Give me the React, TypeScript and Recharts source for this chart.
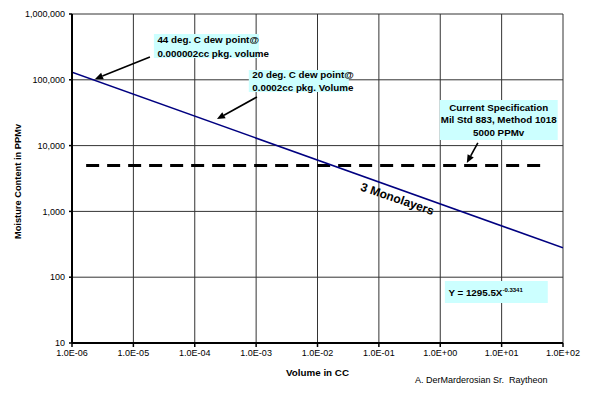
import React from 'react';
import { LineChart, Line, XAxis, YAxis, CartesianGrid, ReferenceArea, ReferenceLine, ReferenceDot } from 'recharts';

// power-law fit, read at the two ends of the x axis
const volumeCC = [1e-6, 1e2];
const moisturePPMv = [130000, 280];

// current spec line (5000 PPMv)
const specVolumeCC = [1.7e-6, 45];
const specPPMv = [5000, 5000];

const xTicks = [1e-6, 1e-5, 1e-4, 1e-3, 1e-2, 1e-1, 1, 10, 100];
const yTicks = [10, 100, 1000, 10000, 100000, 1000000];

const fitData = volumeCC.map((x, i) => ({ x, y: moisturePPMv[i] }));
const specData = specVolumeCC.map((x, i) => ({ x, y: specPPMv[i] }));

const FONT = '"Liberation Sans", Arial, sans-serif';
const BOX = '#ccffff';

// callouts, placed in data units
const notes = [
  {
    lines: ['44 deg. C dew point@', '0.000002cc pkg. volume'],
    box: { x1: 2.16e-5, x2: 1.11e-3, y1: 2.14e5, y2: 4.97e5 },
    align: 'start',
    lh: 14,
    arrow: [{ x: 1.86e-5, y: 2.22e5 }, { x: 2.37e-6, y: 1.03e5 }],
  },
  {
    lines: ['20 deg. C dew point@', '0.0002cc pkg. Volume'],
    box: { x1: 7.6e-4, x2: 0.0324, y1: 6.53e4, y2: 1.41e5 },
    align: 'start',
    lh: 12.5,
    arrow: [{ x: 1.03e-3, y: 5.48e4 }, { x: 2.3e-4, y: 2.53e4 }],
  },
  {
    lines: ['Current Specification', 'Mil Std 883, Method 1018', '5000 PPMv'],
    box: { x1: 0.98, x2: 82, y1: 1.22e4, y2: 4.93e4 },
    align: 'middle',
    lh: 12.2,
    arrow: [{ x: 4.1, y: 1.1e4 }, { x: 2.71, y: 5450 }],
  },
];

const fmtX = (v: number) => {
  const exp = Math.round(Math.log10(v));
  const sign = exp < 0 ? '-' : '+';
  return `1.0E${sign}${String(Math.abs(exp)).padStart(2, '0')}`;
};
const fmtY = (v: number) => v.toLocaleString('en-US');

const boxText = (lines: string[], align: string, lh: number) => (props: any) => {
  const { x, y, width, height } = props.viewBox;
  const tx = align === 'middle' ? x + width / 2 : x + 3.5;
  const top = y + height / 2 - ((lines.length - 1) * lh) / 2 + 3.5;
  return (
    <text fontFamily={FONT} fontSize={9.8} fontWeight="bold" fill="#000" textAnchor={align}>
      {lines.map((l, i) => (
        <tspan key={i} x={tx} y={top + i * lh}>{l}</tspan>
      ))}
    </text>
  );
};

const formulaText = (props: any) => {
  const { x, y, height } = props.viewBox;
  return (
    <text x={x + 3.5} y={y + height / 2 + 4} fontFamily={FONT} fontSize={9.8} fontWeight="bold" fill="#000">
      Y = 1295.5X
      <tspan dy={-4} fontSize={6}>-0.3341</tspan>
    </text>
  );
};

const Arrow = (props: any) => {
  const { x1, y1, x2, y2 } = props;
  const a = Math.atan2(y2 - y1, x2 - x1);
  const L = 8;
  const W = 3.5;
  const bx = x2 - L * Math.cos(a);
  const by = y2 - L * Math.sin(a);
  const pts = `${x2},${y2} ${bx + W * Math.sin(a)},${by - W * Math.cos(a)} ${bx - W * Math.sin(a)},${by + W * Math.cos(a)}`;
  return (
    <g>
      <line x1={x1} y1={y1} x2={bx} y2={by} stroke="#000" strokeWidth={1.6} />
      <polygon points={pts} fill="#000" />
    </g>
  );
};

const yTitle = (props: any) => {
  const { x, y, height } = props.viewBox;
  const cx = x + 6;
  const cy = y + height / 2 + 3;
  return (
    <text x={cx} y={cy} transform={`rotate(-90, ${cx}, ${cy})`} textAnchor="middle" dominantBaseline="central"
      fontFamily={FONT} fontSize={9.3} fontWeight="bold" fill="#000">
      Moisture Content in PPMv
    </text>
  );
};

const xTitle = (props: any) => {
  const { x, y, width } = props.viewBox;
  return (
    <g fontFamily={FONT} fill="#000">
      <text x={x + width / 2} y={y + 33} textAnchor="middle" fontSize={9.8} fontWeight="bold">Volume in CC</text>
      <text x={x + width - 148} y={y + 40} fontSize={9}>{'A. DerMarderosian Sr.\u00a0 Raytheon'}</text>
    </g>
  );
};

const Monolayers = (props: any) => {
  const { cx, cy } = props;
  return (
    <text x={cx} y={cy} transform={`rotate(19, ${cx}, ${cy})`} textAnchor="middle" dominantBaseline="central"
      fontFamily={FONT} fontSize={12} fontWeight="bold" fill="#000">
      3 Monolayers
    </text>
  );
};

const tickStyle = { fontFamily: FONT, fontSize: 9, fill: '#000' };

export default function App() {
  return (
    <div style={{ position: 'absolute', left: 0, top: 0, background: '#fff' }}>
      <LineChart width={594} height={393} margin={{ top: 14, right: 31, bottom: 20, left: 12 }}>
        <CartesianGrid stroke="#333" strokeWidth={1} />
        <XAxis
          dataKey="x"
          type="number"
          scale="log"
          domain={[1e-6, 100]}
          ticks={xTicks}
          tickFormatter={fmtX}
          allowDataOverflow
          height={30}
          tick={tickStyle}
          tickSize={4}
          tickMargin={3}
          axisLine={{ stroke: '#000', strokeWidth: 2 }}
          tickLine={{ stroke: '#000', strokeWidth: 1.5 }}
          label={xTitle}
        />
        <YAxis
          dataKey="y"
          type="number"
          scale="log"
          domain={[10, 1000000]}
          ticks={yTicks}
          tickFormatter={fmtY}
          allowDataOverflow
          width={60}
          tick={tickStyle}
          tickSize={3}
          tickMargin={4}
          axisLine={{ stroke: '#000', strokeWidth: 2 }}
          tickLine={{ stroke: '#000', strokeWidth: 1.5 }}
          label={yTitle}
        />
        <Line data={specData} dataKey="y" stroke="#000" strokeWidth={3} strokeDasharray="13 8" dot={false} isAnimationActive={false} />
        <Line data={fitData} dataKey="y" stroke="#000080" strokeWidth={1.5} dot={false} isAnimationActive={false} />
        {notes.map((n, i) => (
          <ReferenceArea key={`b${i}`} {...n.box} fill={BOX} fillOpacity={1} stroke="none" label={boxText(n.lines, n.align, n.lh)} />
        ))}
        {notes.map((n, i) => (
          <ReferenceLine key={`a${i}`} segment={n.arrow} shape={Arrow} ifOverflow="visible" />
        ))}
        <ReferenceArea x1={1.19} x2={56.5} y1={40.5} y2={87.5} fill={BOX} fillOpacity={1} stroke="none" label={formulaText} />
        <ReferenceDot x={0.2} y={1550} r={0} shape={Monolayers} ifOverflow="visible" />
      </LineChart>
    </div>
  );
}
